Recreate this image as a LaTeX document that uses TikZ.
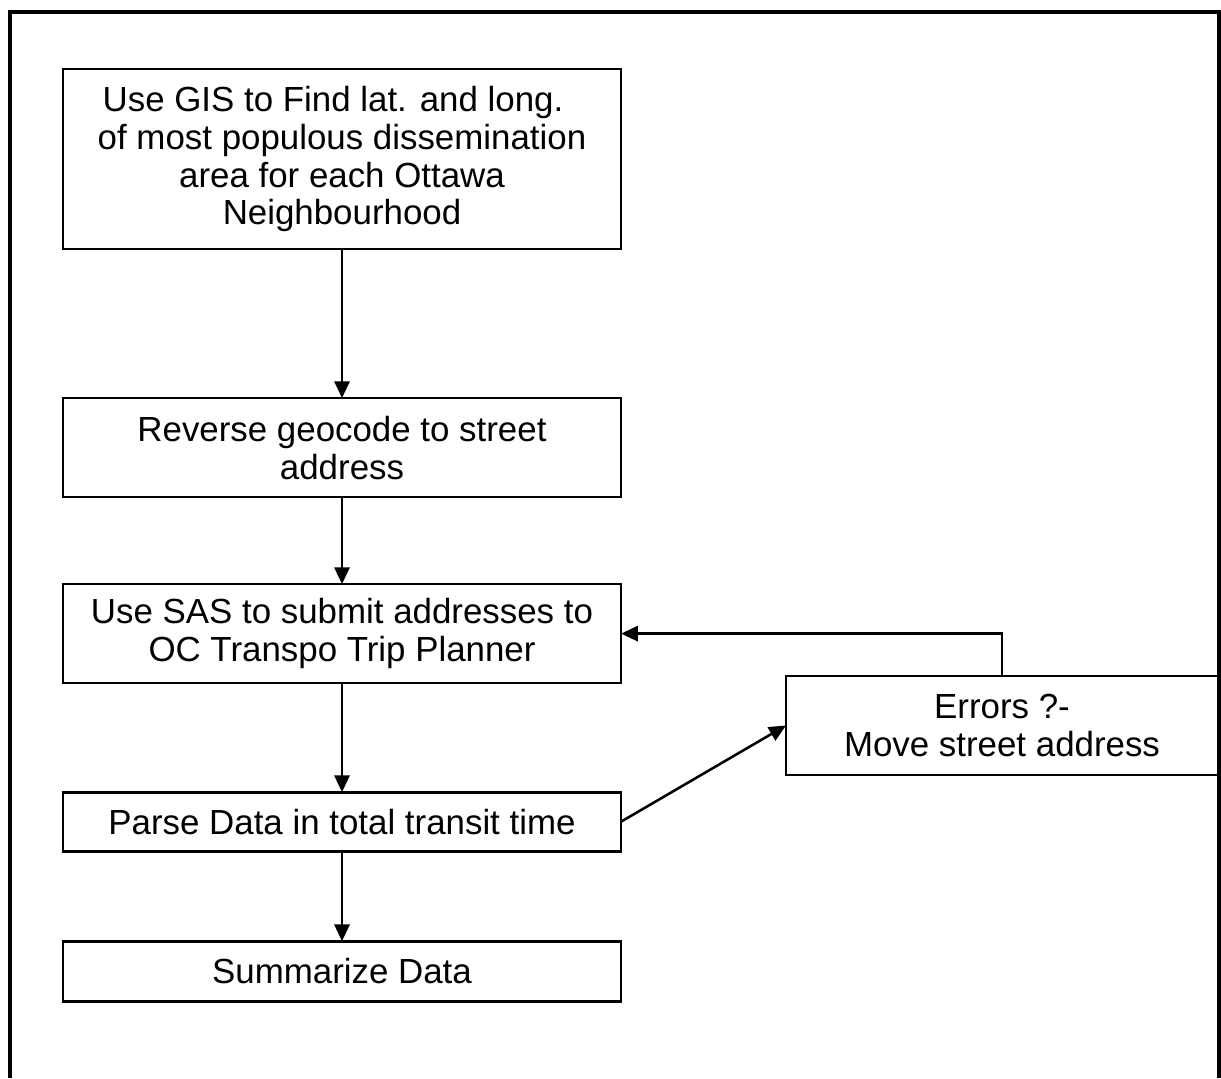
\documentclass[tikz,border=0pt]{standalone}
\usepackage{fontspec}
\setmainfont{Liberation Sans}
\usetikzlibrary{positioning,arrows.meta}

\begin{document}
\begin{tikzpicture}[x=0.025cm, y=-0.025cm, font=\fontsize{24.8}{27}\selectfont,
    stepbox/.style={rectangle, draw, line width=1.9pt, align=center, minimum width=13.95cm, inner sep=0pt, outer sep=0pt},
    arr/.style={-{Triangle[length=0.42cm,width=0.38cm]}, line width=1.8pt}]

    \useasboundingbox (0,0) rectangle (1221,1078);
    \draw[line width=2.2pt] (10,1078) -- (10,12) -- (1219,12) -- (1219,1078);

    \node[stepbox, minimum height=4.5cm] (gis) at (342,159)
        {Use GIS to Find lat. and long.\hspace*{0.45cm}\\ of most populous dissemination\\ area for each Ottawa\\ Neighbourhood};
    \node[stepbox, minimum height=2.475cm, below=3.725cm of gis] (geo) {Reverse geocode to street\\ address};
    \node[stepbox, minimum height=2.475cm, below=2.175cm of geo] (sas) {Use SAS to submit addresses to\\ OC Transpo Trip Planner};
    \node[stepbox, minimum height=1.475cm, below=2.725cm of sas] (parse) {Parse Data in total transit time};
    \node[stepbox, minimum height=1.5cm, below=2.25cm of parse] (summ) {Summarize Data};
    \node[stepbox, minimum width=10.8cm, minimum height=2.475cm] (err) at (1002,725.5) {Errors ?-\\ Move street address};

    \draw[arr] (gis) -- (geo);
    \draw[arr] (geo) -- (sas);
    \draw[arr] (sas) -- (parse);
    \draw[arr] (parse) -- (summ);
    \draw[arr] (parse.east) -- (err.west);
    \draw[arr] (err.north) |- (sas.east);

\end{tikzpicture}
\end{document}
